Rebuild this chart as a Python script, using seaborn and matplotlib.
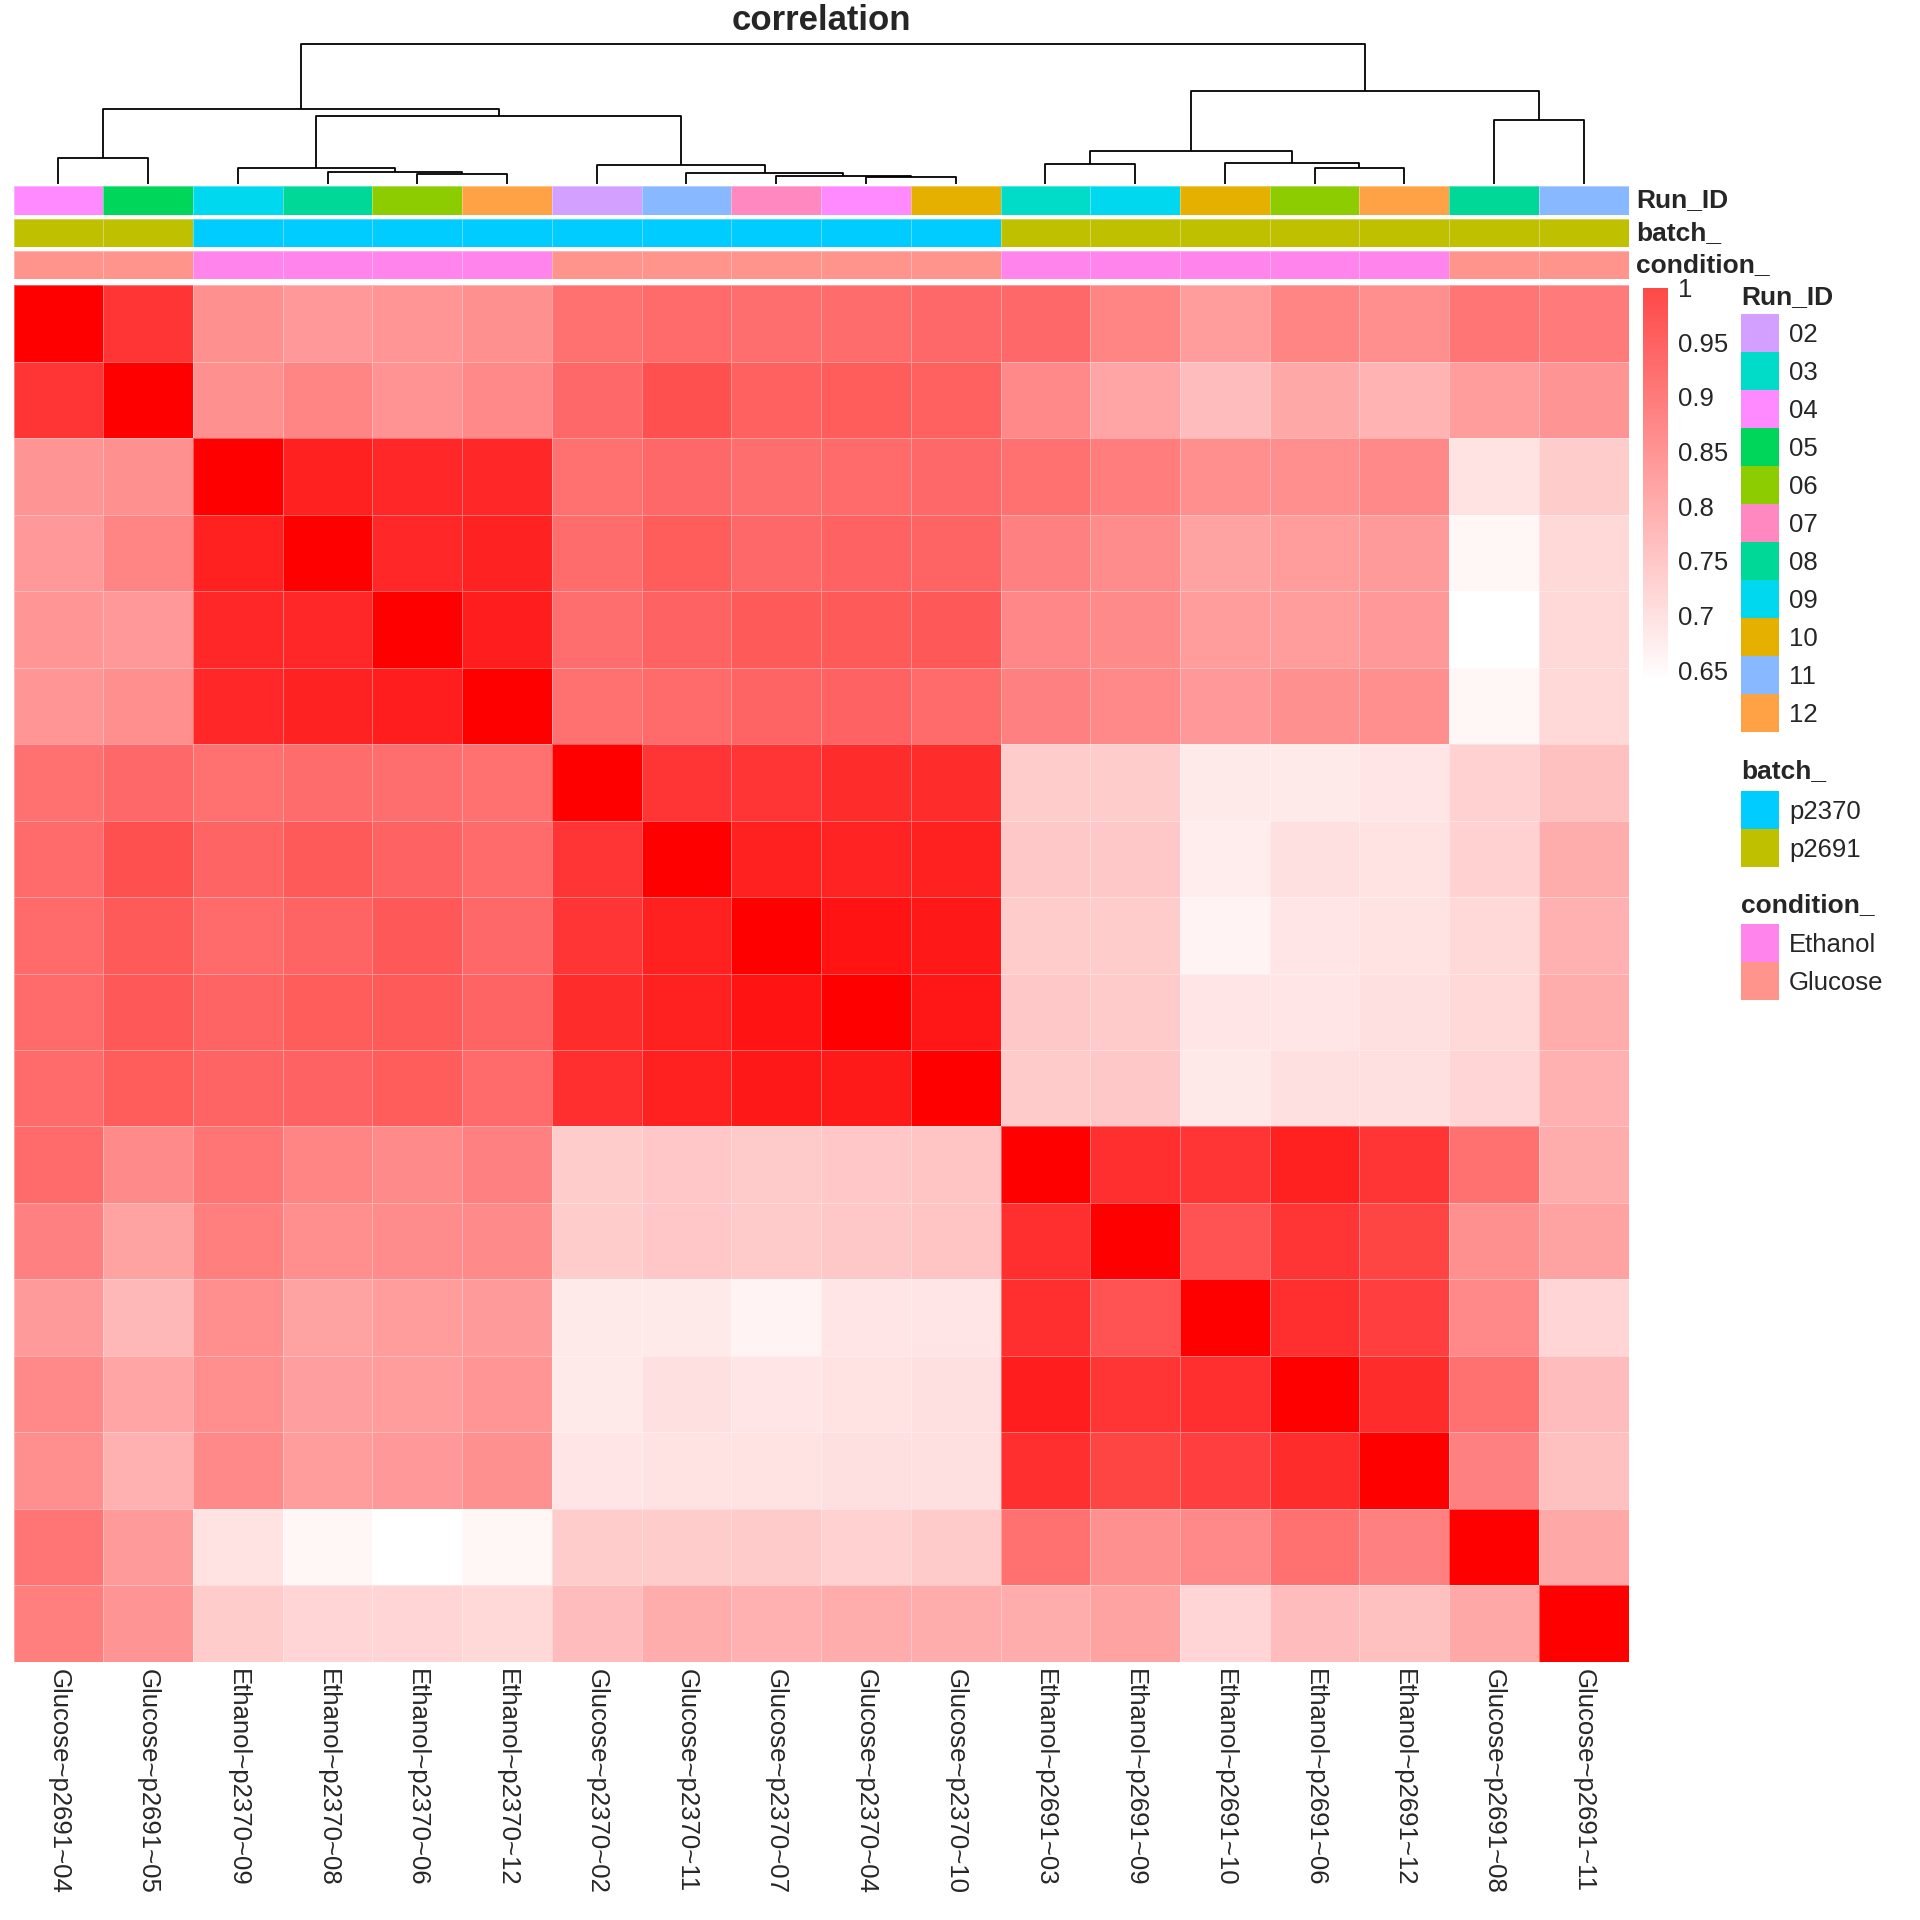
import numpy as np
import pandas as pd
import matplotlib
matplotlib.use('Agg')
import matplotlib.pyplot as plt
import seaborn as sns
from matplotlib.colors import LinearSegmentedColormap, ListedColormap, Normalize
from matplotlib.patches import Rectangle
import matplotlib.cm as cm

# sample names in clustered order (condition~batch~run)
samples = ['Glucose~p2691~04', 'Glucose~p2691~05', 'Ethanol~p2370~09', 'Ethanol~p2370~08',
           'Ethanol~p2370~06', 'Ethanol~p2370~12', 'Glucose~p2370~02', 'Glucose~p2370~11',
           'Glucose~p2370~07', 'Glucose~p2370~04', 'Glucose~p2370~10', 'Ethanol~p2691~03',
           'Ethanol~p2691~09', 'Ethanol~p2691~10', 'Ethanol~p2691~06', 'Ethanol~p2691~12',
           'Glucose~p2691~08', 'Glucose~p2691~11']

# correlation values
corr_rows = [
    [1.0, 0.925, 0.797, 0.785, 0.79, 0.797, 0.842, 0.85, 0.845, 0.848, 0.853, 0.853, 0.814, 0.78, 0.814, 0.798, 0.835, 0.828],
    [0.925, 1.0, 0.797, 0.812, 0.792, 0.808, 0.853, 0.887, 0.864, 0.87, 0.864, 0.808, 0.767, 0.735, 0.763, 0.747, 0.78, 0.791],
    [0.791, 0.797, 1.0, 0.955, 0.944, 0.944, 0.842, 0.853, 0.845, 0.85, 0.853, 0.84, 0.823, 0.80, 0.80, 0.808, 0.681, 0.712],
    [0.785, 0.812, 0.955, 1.0, 0.944, 0.952, 0.848, 0.87, 0.853, 0.861, 0.858, 0.819, 0.802, 0.771, 0.78, 0.783, 0.654, 0.695],
    [0.79, 0.785, 0.944, 0.944, 1.0, 0.958, 0.845, 0.861, 0.873, 0.873, 0.876, 0.81, 0.805, 0.78, 0.78, 0.785, 0.64, 0.695],
    [0.79, 0.80, 0.944, 0.952, 0.958, 1.0, 0.842, 0.85, 0.858, 0.861, 0.85, 0.819, 0.808, 0.785, 0.797, 0.80, 0.654, 0.695],
    [0.84, 0.853, 0.842, 0.848, 0.845, 0.842, 1.0, 0.925, 0.925, 0.938, 0.938, 0.712, 0.712, 0.67, 0.67, 0.677, 0.706, 0.729],
    [0.85, 0.887, 0.858, 0.873, 0.861, 0.85, 0.925, 1.0, 0.955, 0.95, 0.955, 0.718, 0.718, 0.667, 0.684, 0.681, 0.706, 0.757],
    [0.85, 0.873, 0.85, 0.858, 0.876, 0.853, 0.925, 0.955, 1.0, 0.972, 0.966, 0.712, 0.712, 0.658, 0.677, 0.681, 0.695, 0.751],
    [0.85, 0.876, 0.858, 0.87, 0.873, 0.858, 0.938, 0.955, 0.972, 1.0, 0.969, 0.718, 0.715, 0.677, 0.677, 0.684, 0.695, 0.757],
    [0.85, 0.87, 0.858, 0.861, 0.87, 0.85, 0.933, 0.955, 0.966, 0.963, 1.0, 0.715, 0.718, 0.673, 0.684, 0.684, 0.70, 0.751],
    [0.85, 0.805, 0.836, 0.814, 0.805, 0.819, 0.712, 0.72, 0.715, 0.72, 0.724, 1.0, 0.933, 0.925, 0.955, 0.925, 0.84, 0.757],
    [0.819, 0.771, 0.822, 0.80, 0.802, 0.805, 0.712, 0.72, 0.715, 0.718, 0.724, 0.933, 1.0, 0.884, 0.925, 0.904, 0.797, 0.771],
    [0.783, 0.74, 0.80, 0.771, 0.78, 0.783, 0.67, 0.67, 0.658, 0.677, 0.677, 0.933, 0.884, 1.0, 0.933, 0.91, 0.808, 0.70],
    [0.808, 0.767, 0.80, 0.777, 0.78, 0.79, 0.67, 0.684, 0.677, 0.681, 0.684, 0.958, 0.925, 0.933, 1.0, 0.938, 0.84, 0.735],
    [0.80, 0.751, 0.808, 0.78, 0.785, 0.797, 0.677, 0.681, 0.681, 0.684, 0.684, 0.933, 0.904, 0.91, 0.938, 1.0, 0.819, 0.729],
    [0.835, 0.783, 0.681, 0.654, 0.64, 0.654, 0.712, 0.712, 0.715, 0.706, 0.715, 0.842, 0.797, 0.808, 0.842, 0.819, 1.0, 0.763],
    [0.822, 0.791, 0.712, 0.70, 0.70, 0.695, 0.735, 0.757, 0.751, 0.757, 0.757, 0.757, 0.771, 0.70, 0.735, 0.729, 0.763, 1.0],
]

# annotation levels and colours
run_levels = ['02', '03', '04', '05', '06', '07', '08', '09', '10', '11', '12']
run_colors = ['#D3A0FF', '#00DCC8', '#FF8AFF', '#00D65A', '#8CCC00', '#FF88C0',
              '#00D898', '#00D8F0', '#E6B000', '#88B8FF', '#FFA245']
batch_levels = ['p2370', 'p2691']
batch_colors = ['#00CCFF', '#BFC000']
cond_levels = ['Ethanol', 'Glucose']
cond_colors = ['#FF84EC', '#FF948C']

# column dendrogram merges: (left node, right node, height); leaves 0-17, merges numbered from 18
merges = [
    (0, 1, 26.3), (4, 5, 10.3), (3, 19, 12.3), (2, 20, 15.7),
    (9, 10, 7.3), (8, 22, 7.7), (7, 23, 11.5), (6, 24, 19.3),
    (21, 25, 68.0), (18, 26, 75.0), (11, 12, 20.3), (14, 15, 15.7),
    (13, 29, 20.7), (28, 30, 33.3), (16, 17, 63.7), (31, 32, 93.3),
    (27, 33, 140.0),
]

sns.set_style('white')
plt.rcParams['font.family'] = ['Liberation Sans', 'DejaVu Sans']

W, H = 1920, 1920
fig = plt.figure(figsize=(W / 100, H / 100), dpi=100)


def px_axes(x0, y0, x1, y1):
    return fig.add_axes([x0 / W, 1 - y1 / H, (x1 - x0) / W, (y1 - y0) / H])


df = pd.DataFrame(corr_rows, index=samples, columns=samples)
cmap = LinearSegmentedColormap.from_list('wr', ['#FFFFFF', '#FF0000'])
grid_col = (1, 1, 1, 0.35)

# main heatmap
ax_hm = px_axes(13.5, 285.3, 1628.6, 1661.7)
sns.heatmap(df, ax=ax_hm, cmap=cmap, vmin=0.64, vmax=1.0, cbar=False,
            linewidths=0.6, linecolor=grid_col, xticklabels=True, yticklabels=False)
ax_hm.set_xticklabels(samples, rotation=270, fontsize=18.5, va='top', ha='center')
ax_hm.tick_params(axis='x', length=0, pad=5)
ax_hm.set_xlabel('')
ax_hm.set_ylabel('')

# annotation rows
conds = [s.split('~')[0] for s in samples]
batches = [s.split('~')[1] for s in samples]
runs = [s.split('~')[2] for s in samples]
annots = [
    ('Run_ID', [run_levels.index(r) for r in runs], run_colors, 186, 214.5),
    ('batch_', [batch_levels.index(b) for b in batches], batch_colors, 219, 247),
    ('condition_', [cond_levels.index(c) for c in conds], cond_colors, 251, 279),
]
for name, codes, cols, y0, y1 in annots:
    ax = px_axes(13.5, y0, 1628.6, y1)
    sns.heatmap(np.array(codes)[None, :], ax=ax, cmap=ListedColormap(cols),
                vmin=-0.5, vmax=len(cols) - 0.5, cbar=False, linewidths=0.6,
                linecolor=grid_col, xticklabels=False, yticklabels=False)
    fig.text(1636 / W, 1 - (y0 + y1) / 2 / H, name, fontsize=19, fontweight='bold',
             ha='left', va='center')

# column dendrogram
ax_d = px_axes(13.5, 44, 1628.6, 184)
pos = {i: i + 0.5 for i in range(len(samples))}
hgt = {i: 0.0 for i in range(len(samples))}
for k, (a, b, h) in enumerate(merges):
    ax_d.plot([pos[a], pos[a], pos[b], pos[b]], [hgt[a], h, h, hgt[b]],
              color='black', lw=1.3, clip_on=False, solid_capstyle='butt')
    node = len(samples) + k
    pos[node] = (pos[a] + pos[b]) / 2
    hgt[node] = h
ax_d.set_xlim(0, len(samples))
ax_d.set_ylim(0, 140)
ax_d.axis('off')

# title
fig.text(821 / W, 1 - 20 / H, 'correlation', fontsize=25, fontweight='bold',
         ha='center', va='center')

# colour bar
cax = px_axes(1643, 287.7, 1668, 681)
bar_cmap = LinearSegmentedColormap.from_list('wr_bar', ['#FFFFFF', '#FF4848'])
sm = cm.ScalarMappable(norm=Normalize(0.64, 1.0), cmap=bar_cmap)
cb = fig.colorbar(sm, cax=cax, ticks=[0.65, 0.7, 0.75, 0.8, 0.85, 0.9, 0.95, 1.0])
cb.set_ticklabels(['0.65', '0.7', '0.75', '0.8', '0.85', '0.9', '0.95', '1'])
cb.outline.set_visible(False)
cax.tick_params(length=0, labelsize=18.5, pad=7)

# annotation legends
ax_l = px_axes(1741, 270, 1920, 1010)
ax_l.set_xlim(0, 179)
ax_l.set_ylim(1010, 270)
ax_l.axis('off')
legends = [
    ('Run_ID', run_levels, run_colors, 297, 314),
    ('batch_', batch_levels, batch_colors, 771, 791),
    ('condition_', cond_levels, cond_colors, 905, 924),
]
for title, levels, cols, ty, top in legends:
    ax_l.text(0, ty, title, fontsize=19, fontweight='bold', ha='left', va='center')
    for i, (lab, col) in enumerate(zip(levels, cols)):
        y = top + i * 38
        ax_l.add_patch(Rectangle((0, y), 38, 38, facecolor=col, edgecolor='none'))
        ax_l.text(48, y + 21, lab, fontsize=18.5, ha='left', va='center')

fig.savefig('out.png', dpi=100)
